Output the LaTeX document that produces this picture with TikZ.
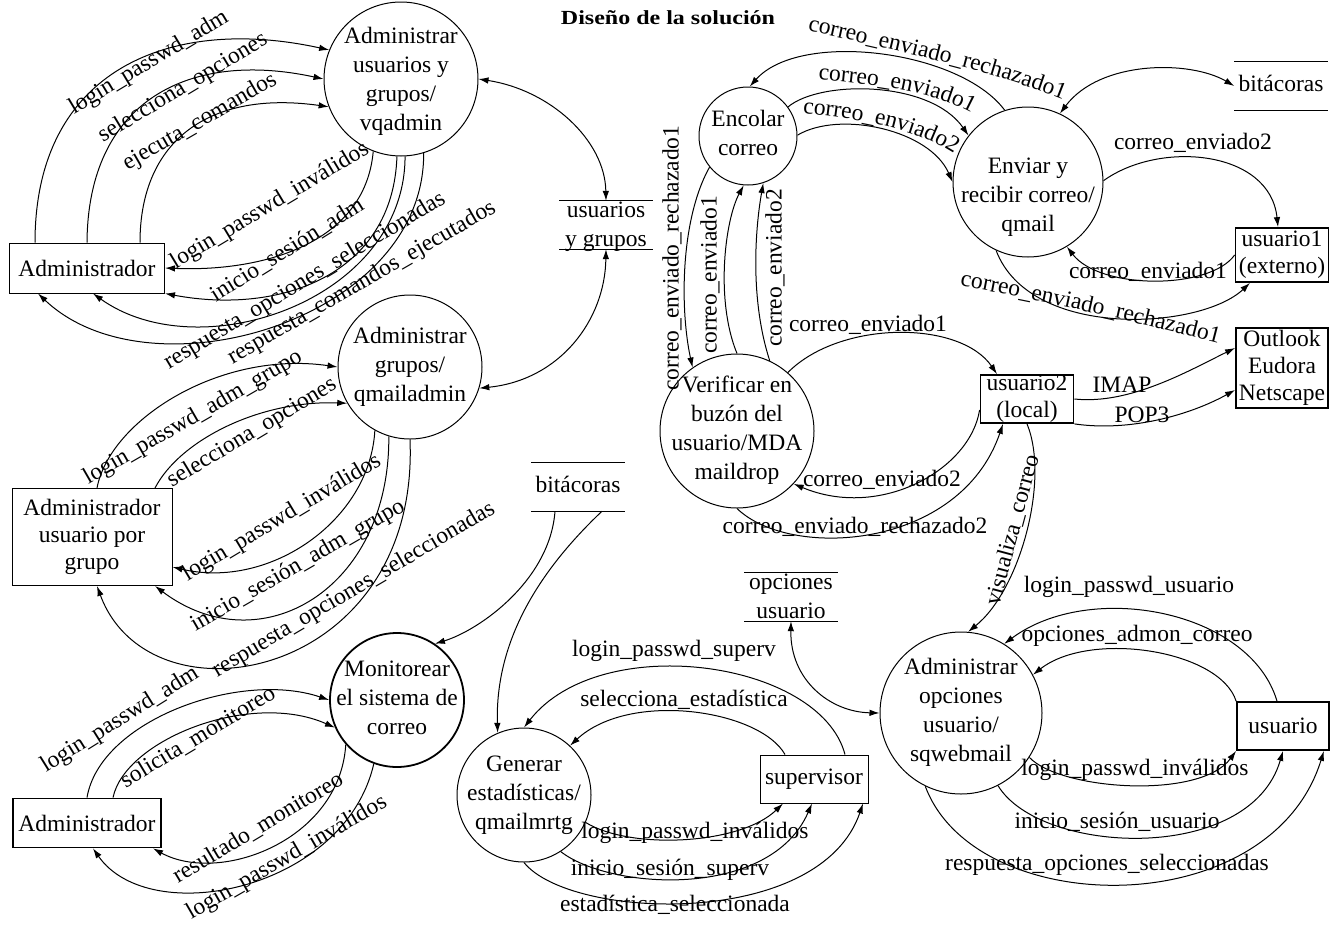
\documentclass[tikz,border=0pt]{standalone}
\usepackage{fontspec}
\setmainfont{Liberation Serif}
\usetikzlibrary{arrows.meta,decorations.text}
% multi-line text set into a shape without enlarging it; optional arg lowers the block
\newcommand\blocktext[2][0pt]{\raisebox{\dimexpr-0.25em-#1\relax}[0pt][0pt]{\makebox[0pt]{\begin{tabular}{@{}c@{}}#2\end{tabular}}}}
\newcommand\flowfont{\fontsize{23.5}{29}\selectfont}
\begin{document}
\begin{tikzpicture}[x=1pt,y=-1pt,
  every node/.style={font=\flowfont},
  proc/.style={circle, draw, line width=1pt, inner sep=0pt},
  heavy/.style={line width=1.8pt},
  ent/.style={rectangle, draw, line width=1pt, inner sep=0pt, align=center, font=\fontsize{23.5}{27}\selectfont},
  store/.style={inner sep=0pt, minimum width=93pt, minimum height=48pt},
  lbl/.style={inner sep=0pt},
  curvedlbl/.style={decorate, decoration={text along path, text align=center, text={|\flowfont|#1}}},
  flow/.style={line width=1pt, -{Latex[length=10pt,width=6.5pt]}},
  both/.style={line width=1pt, {Latex[length=10pt,width=6.5pt]}-{Latex[length=10pt,width=6.5pt]}},
]
\useasboundingbox (0,0) rectangle (1331,924);

% title
\node (title) at (668,18) {\scalebox{1.2}[1]{\fontsize{20}{24}\selectfont\bfseries Diseño de la solución}};

% processes
\node[proc, minimum size=154pt] (C1) at (401,79) {\blocktext[3pt]{Administrar\\usuarios y\\grupos/\\vqadmin}};
\node[proc, minimum size=144pt] (C2) at (410,367) {\blocktext{Administrar\\grupos/\\qmailadmin}};
\node[proc, heavy, minimum size=134pt] (C3) at (397,700) {\blocktext{Monitorear\\el sistema de\\correo}};
\node[proc, minimum size=134pt] (C4) at (524,795) {\blocktext{Generar\\estadísticas/\\qmailmrtg}};
\node[proc, minimum size=98pt] (C5) at (748,136) {\blocktext{Encolar\\correo}};
\node[proc, minimum size=150pt] (C6) at (1028,182) {\blocktext[15pt]{Enviar y\\recibir correo/\\qmail}};
\node[proc, minimum size=154pt] (C7) at (737,431) {\blocktext{Verificar en\\buzón del\\usuario/MDA\\maildrop}};
\node[proc, minimum size=162pt] (C8) at (961,713) {\blocktext{Administrar\\opciones\\usuario/\\sqwebmail}};

% external entities
\node[ent, minimum width=155pt, minimum height=50pt] (A1) at (87,268) {Administrador};
\node[ent, minimum width=160pt, minimum height=97pt] (A2) at (92,537) {Administrador\\usuario por\\grupo};
\node[ent, heavy, minimum width=148pt, minimum height=49pt] (A3) at (87,823) {Administrador};
\node[ent, heavy, minimum width=93pt, minimum height=54pt] (U1) at (1282,255) {usuario1\\(externo)};
\node[ent, heavy, minimum width=92pt, minimum height=80pt] (OL) at (1282,368) {Outlook\\Eudora\\Netscape};
\node[ent, heavy, minimum width=93pt, minimum height=48pt] (U2) at (1027,399) {usuario2\\(local)};
\node[ent, minimum width=108pt, minimum height=48pt] (S) at (814,779) {supervisor};
\node[ent, heavy, minimum width=92pt, minimum height=48pt] (U) at (1283,726) {usuario};

% data stores
\node[store] (D1) at (606,225) {\blocktext[2pt]{usuarios\\y grupos}};
\node[store] (D2) at (578,487) {\blocktext{bitácoras}};
\node[store] (D3) at (1281,86) {\blocktext{bitácoras}};
\node[store] (D4) at (791,597) {\blocktext[2pt]{opciones\\usuario}};
\foreach \s in {D1,D2,D3,D4}
  \draw[line width=1pt] (\s.north west) -- (\s.north east) (\s.south west) -- (\s.south east);

% vqadmin <-> Administrador
\draw[flow] ([xshift=-52pt]A1.north) .. controls (35,70) and (170,15) .. (C1.158);
\draw[flow] (A1.north) .. controls (88,100) and (190,50) .. (C1.180);
\draw[flow] ([xshift=53pt]A1.north) .. controls (140,140) and (210,90) .. (C1.201);
\draw[flow] (C1.249) .. controls (365,245) and (260,272) .. (A1.east);
\draw[flow] (C1.267) .. controls (393,275) and (280,315) .. (A1.south east);
\draw[flow] (C1.273) .. controls (405,300) and (200,370) .. ([xshift=6pt]A1.south);
\draw[flow] (C1.287) .. controls (425,320) and (150,400) .. ([xshift=-49pt]A1.south);
\node[lbl, rotate=31] (l1) at (149,63) {login\_passwd\_adm};
\node[lbl, rotate=31] (l2) at (183,88) {selecciona\_opciones};
\node[lbl, rotate=30] (l3) at (200,122) {ejecuta\_comandos};
\node[lbl, rotate=31] (l4) at (270,206) {login\_passwd\_inválidos};
\node[lbl, rotate=32] (l5) at (287,250) {inicio\_sesión\_adm};
\node[lbl, rotate=31] (l6) at (305,281) {respuesta\_opciones\_seleccionadas};
\node[lbl, rotate=30] (l7) at (362,283) {respuesta\_comandos\_ejecutados};

% qmailadmin <-> Administrador usuario por grupo
\draw[flow] ([xshift=5pt]A2.north) .. controls (110,420) and (220,350) .. (C2.180);
\draw[flow] ([xshift=63pt]A2.north) .. controls (180,440) and (260,400) .. (C2.210);
\draw[flow] (C2.241) .. controls (370,520) and (270,590) .. ([yshift=-30pt]A2.east);
\draw[flow] (C2.253) .. controls (390,590) and (260,665) .. ([xshift=63pt]A2.south);
\draw[flow] (C2.270) .. controls (420,680) and (150,730) .. ([xshift=5pt]A2.south);
\node[lbl, rotate=30] (m1) at (193,418) {login\_passwd\_adm\_grupo};
\node[lbl, rotate=31] (m2) at (252,433) {selecciona\_opciones};
\node[lbl, rotate=31] (m3) at (282,518) {login\_passwd\_inválidos};
\node[lbl, rotate=30] (m4) at (298,566) {inicio\_sesión\_adm\_grupo};
\node[lbl, rotate=30.5] (m5) at (354,590) {respuesta\_opciones\_seleccionadas};

% monitoring
\draw[flow] (A3.north) .. controls (100,720) and (240,670) .. (C3.180);
\draw[flow] ([xshift=26pt]A3.north) .. controls (125,740) and (250,690) .. (C3.204);
\draw[flow] (C3.221) .. controls (340,840) and (220,885) .. ([xshift=66pt]A3.south);
\draw[flow] (C3.250) .. controls (345,890) and (150,930) .. ([xshift=6pt]A3.south);
\node[lbl, rotate=32] (n1) at (120,720) {login\_passwd\_adm};
\node[lbl, rotate=31] (n2) at (198,737) {solicita\_monitoreo};
\node[lbl, rotate=31] (n3) at (258,828) {resultado\_monitoreo};
\node[lbl, rotate=30] (n4) at (287,858) {login\_passwd\_inválidos};

% stores
\draw[both] (C1.0) .. controls (550,90) and (605,140) .. (D1.north);
\draw[both] (C2.343) .. controls (560,380) and (605,320) .. (D1.south);
\draw[flow] ([xshift=-23pt]D2.south) .. controls (550,580) and (480,630) .. (C3.56);
\draw[flow] ([xshift=24pt]D2.south) .. controls (540,570) and (495,640) .. (C4.113);

% queue and delivery
\draw[flow] (C6.108) .. controls (960,50) and (800,30) .. (C5.88);
\draw[flow] (C5.36) .. controls (820,80) and (930,80) .. (C6.142);
\draw[flow] (C5.1) .. controls (840,110) and (930,130) .. (C6.180);
\draw[both] (C6.65) .. controls (1100,60) and (1190,60) .. (D3.west);
\draw[flow] (C6.1) .. controls (1160,140) and (1270,150) .. ([xshift=-4pt]U1.north);
\draw[flow] (U1.west) .. controls (1210,290) and (1100,290) .. (C6.301);
\draw[flow] (C6.245) .. controls (1030,340) and (1200,330) .. ([xshift=-32pt]U1.south);
% labels bent along their flows
\path[curvedlbl={correo{\_}enviado{\_}rechazado1}] (796,28) .. controls (866,44) and (996,70) .. (1074,104);
\path[curvedlbl={correo{\_}enviado1}] (812,79) .. controls (867,83) and (937,91) .. (977,116);
\path[curvedlbl={correo{\_}enviado2}] (797,113) .. controls (847,117) and (917,127) .. (959,157);
\path[curvedlbl={correo{\_}enviado{\_}rechazado1}] (938,282) .. controls (1030,298) and (1130,320) .. (1240,349);
\node[lbl] (q4) at (1193,143) {correo\_enviado2};
\node[lbl] (q5) at (1148,272) {correo\_enviado1};

\draw[flow] (C5.219) .. controls (680,220) and (680,310) .. (C7.125);
\draw[flow] (C7.90) .. controls (715,300) and (725,220) .. (C5.265);
\draw[flow] (C7.65) .. controls (750,300) and (755,230) .. (C5.288);
\node[lbl, rotate=90] (v1) at (672,258) {correo\_enviado\_rechazado1};
\node[lbl, rotate=90] (v2) at (710,275) {correo\_enviado1};
\node[lbl, rotate=90] (v3) at (775,268) {correo\_enviado2};

\draw[flow] (C7.49) .. controls (840,320) and (960,320) .. ([xshift=-30pt]U2.north);
\draw[flow] ([yshift=-11pt]U2.west) .. controls (970,470) and (880,520) .. (C7.317);
\draw[flow] (C7.270) .. controls (790,560) and (960,550) .. ([xshift=-24pt]U2.south);
\node[lbl] (w1) at (868,325) {correo\_enviado1};
\node[lbl] (w2) at (882,480) {correo\_enviado2};
\node[lbl] (w3) at (855,527) {correo\_enviado\_rechazado2};

\draw[flow] (U2.east) .. controls (1130,405) and (1190,370) .. ([yshift=20pt]OL.west);
\draw[flow] (U2.south east) .. controls (1130,432) and (1190,415) .. ([yshift=-22pt]OL.west);
\node[lbl] (imap) at (1122,385) {IMAP};
\node[lbl] (pop) at (1142,415) {POP3};

% sqwebmail
\draw[flow] (U2.south) .. controls (1050,480) and (1020,590) .. (C8.85);
\node[lbl, rotate=75] (vis) at (1013,530) {visualiza\_correo};
\draw[both] (D4.south) .. controls (790,680) and (830,712) .. (C8.180);
\draw[flow] ([xshift=-6pt]U.north) .. controls (1250,610) and (1090,580) .. (C8.58);
\draw[flow] (U.north west) .. controls (1220,650) and (1090,630) .. (C8.28);
\draw[flow] (C8.327) .. controls (1060,790) and (1200,800) .. (U.south west);
\draw[flow] (C8.297) .. controls (1040,855) and (1250,865) .. (U.south);
\draw[flow] (C8.244) .. controls (975,920) and (1270,925) .. ([xshift=-6pt]U.south east);
\node[lbl] (u1) at (1129,587) {login\_passwd\_usuario};
\node[lbl] (u2) at (1137,636) {opciones\_admon\_correo};
\node[lbl] (u3) at (1135,770) {login\_passwd\_inválidos};
\node[lbl] (u4) at (1117,822) {inicio\_sesión\_usuario};
\node[lbl] (u5) at (1107,865) {respuesta\_opciones\_seleccionadas};

% statistics
\draw[flow] ([xshift=31pt]S.north) .. controls (820,660) and (600,630) .. (C4.90);
\draw[flow] ([xshift=-29pt]S.north) .. controls (760,710) and (630,690) .. (C4.47);
\draw[flow] (C4.336) .. controls (630,850) and (740,845) .. ([xshift=-31pt]S.south);
\draw[flow] (C4.303) .. controls (610,890) and (770,900) .. ([xshift=-2pt]S.south);
\draw[flow] (C4.270) .. controls (570,920) and (820,930) .. ([xshift=49pt]S.south);
\node[lbl] (s1) at (674,651) {login\_passwd\_superv};
\node[lbl] (s2) at (684,700) {selecciona\_estadística};
\node[lbl] (s3) at (695,833) {login\_passwd\_inválidos};
\node[lbl] (s4) at (670,870) {inicio\_sesión\_superv};
\node[lbl] (s5) at (675,905) {estadística\_seleccionada};
\end{tikzpicture}
\end{document}
